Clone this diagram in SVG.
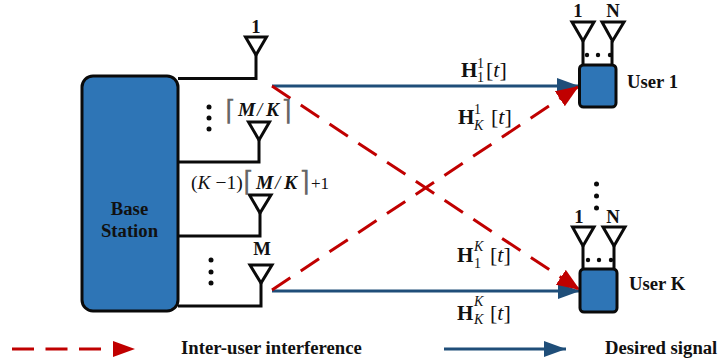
<svg xmlns="http://www.w3.org/2000/svg" width="720" height="362" viewBox="0 0 720 362">
<defs>
<marker id="bh" markerUnits="userSpaceOnUse" markerWidth="23" markerHeight="16" refX="22" refY="8" orient="auto"><path d="M0 0L22 8L0 16Z" fill="#1F4E79"/></marker>
<marker id="rh" markerUnits="userSpaceOnUse" markerWidth="24" markerHeight="18" refX="23" refY="9" orient="auto"><path d="M0 0L23 9L0 18Z" fill="#C00000"/></marker>
</defs>
<style>
text{font-family:"Liberation Serif","Times New Roman",serif;fill:#111}
.b{font-weight:bold;font-size:18.700px}
.box{fill:#2E75B6;stroke:#0a0a0a;stroke-width:3}
.w{fill:none;stroke:#0a0a0a;stroke-width:3}
.ant{fill:#fff;stroke:#0a0a0a;stroke-width:3}
.d{fill:#0a0a0a}
.blue{stroke:#1F4E79;stroke-width:3;fill:none}
.red{stroke:#C00000;stroke-width:3;fill:none;stroke-dasharray:22 12.500}
.H{font-weight:bold;font-size:21px}
.s{font-size:14px}
.i{font-style:italic}
.m{font-size:22px}
.bm{font-size:19.500px;font-weight:bold;font-style:italic}
.c{font-family:"DejaVu Sans",sans-serif;font-size:28px;font-weight:200;fill:#666}
</style>
<g id="connectors">
<path class="blue" d="M272 86H579" marker-end="url(#bh)"/>
<path class="blue" d="M272 291H580" marker-end="url(#bh)"/>
<path class="red" d="M272 86L580 290" marker-end="url(#rh)"/>
<path class="red" d="M272 290L579 86" marker-end="url(#rh)"/>
</g>
<g id="base-station">
<rect class="box" x="82" y="76" width="96" height="235" rx="11"/>
<text class="b" x="129.500" y="215" text-anchor="middle">Base</text>
<text class="b" x="129.500" y="237" text-anchor="middle">Station</text>
</g>
<g id="bs-antenna-1">
<path class="w" d="M178 78.500H256V55"/>
<path class="ant" d="M245.500 37H266.500L256 55Z"/>
<text class="b" x="256" y="33" text-anchor="middle">1</text>
</g>
<g id="bs-antenna-ceil">
<path class="w" d="M178 162H259V140"/>
<path class="ant" d="M248.500 122H269.500L259 140Z"/>
<text class="c" x="225" y="120">⌈</text>
<text class="bm" x="238" y="116">M</text><text class="i" x="257" y="116" style="font-size:19px">/</text><text class="bm" x="266" y="116">K</text>
<text class="c" x="280.500" y="120">⌉</text>
<circle class="d" cx="209" cy="107" r="2.500"/><circle class="d" cx="209" cy="118" r="2.500"/><circle class="d" cx="209" cy="129" r="2.500"/>
</g>
<g id="bs-antenna-k">
<path class="w" d="M178 236H260V213"/>
<path class="ant" d="M249.500 195H271L260 213Z"/>
<text x="191" y="189" style="font-size:19.500px">(<tspan class="i">K</tspan> −1)</text>
<text class="c" x="243" y="191">⌈</text>
<text class="bm" x="256" y="189">M</text><text class="i" x="275" y="189" style="font-size:19px">/</text><text class="bm" x="284" y="189">K</text>
<text class="c" x="298.500" y="191">⌉</text>
<text x="311" y="189" style="font-size:17px">+1</text>
</g>
<g id="bs-antenna-m">
<path class="w" d="M178 306H261V283"/>
<path class="ant" d="M250 265H272L261 283Z"/>
<text class="b" x="262" y="255" text-anchor="middle">M</text>
<circle class="d" cx="211" cy="260" r="2.500"/><circle class="d" cx="211" cy="272" r="2.500"/><circle class="d" cx="211" cy="283" r="2.500"/>
</g>
<g id="user-1">
<path class="w" d="M583 41V65M612 41V65"/>
<path class="ant" d="M572 22H594L583 41Z"/>
<path class="ant" d="M602 22H624L612.500 41Z"/>
<rect class="box" x="579.500" y="65" width="36.500" height="42" rx="4"/>
<circle class="d" cx="587" cy="55" r="2.200"/><circle class="d" cx="598" cy="55" r="2.200"/><circle class="d" cx="610" cy="55" r="2.200"/>
<text class="b" x="578" y="17" text-anchor="middle">1</text>
<text class="b" x="613" y="17" text-anchor="middle">N</text>
<text class="b" x="627" y="88">User 1</text>
</g>
<g id="user-k">
<path class="w" d="M583 246V269M614 246V269"/>
<path class="ant" d="M572.500 227H594L583 246Z"/>
<path class="ant" d="M603 227H625L614 246Z"/>
<rect class="box" x="580" y="269" width="37" height="43" rx="4"/>
<circle class="d" cx="588" cy="260" r="2.200"/><circle class="d" cx="599" cy="260" r="2.200"/><circle class="d" cx="611" cy="260" r="2.200"/>
<text class="b" x="579" y="223" text-anchor="middle">1</text>
<text class="b" x="613" y="223" text-anchor="middle">N</text>
<text class="b" x="629" y="290">User K</text>
<circle class="d" cx="596.500" cy="184" r="2.500"/><circle class="d" cx="596.500" cy="196" r="2.500"/><circle class="d" cx="596.500" cy="208" r="2.500"/>
</g>
<g id="channel-labels">
<text class="H" x="461" y="77">H</text><text class="s" x="477" y="68">1</text><text class="s" x="477" y="82">1</text><text class="m" x="486" y="77">[<tspan class="i">t</tspan>]</text>
<text class="H" x="458" y="124">H</text><text class="s" x="474" y="114">1</text><text class="s i" x="474" y="130">K</text><text class="m" x="491" y="124">[<tspan class="i">t</tspan>]</text>
<text class="H" x="457" y="262">H</text><text class="s i" x="474" y="251">K</text><text class="s" x="474" y="268">1</text><text class="m" x="490" y="262">[<tspan class="i">t</tspan>]</text>
<text class="H" x="457" y="320">H</text><text class="s i" x="474" y="306">K</text><text class="s i" x="474" y="324">K</text><text class="m" x="490" y="320">[<tspan class="i">t</tspan>]</text>
</g>
<g id="legend">
<path class="red" d="M12 349H101" style="stroke-dasharray:22 11.500"/>
<path d="M113 341L135 349L113 357Z" fill="#C00000"/>
<text class="b" x="181" y="354">Inter-user interference</text>
<path class="blue" d="M444 349H566" marker-end="url(#bh)"/>
<text class="b" x="605" y="354">Desired signal</text>
</g>
</svg>
